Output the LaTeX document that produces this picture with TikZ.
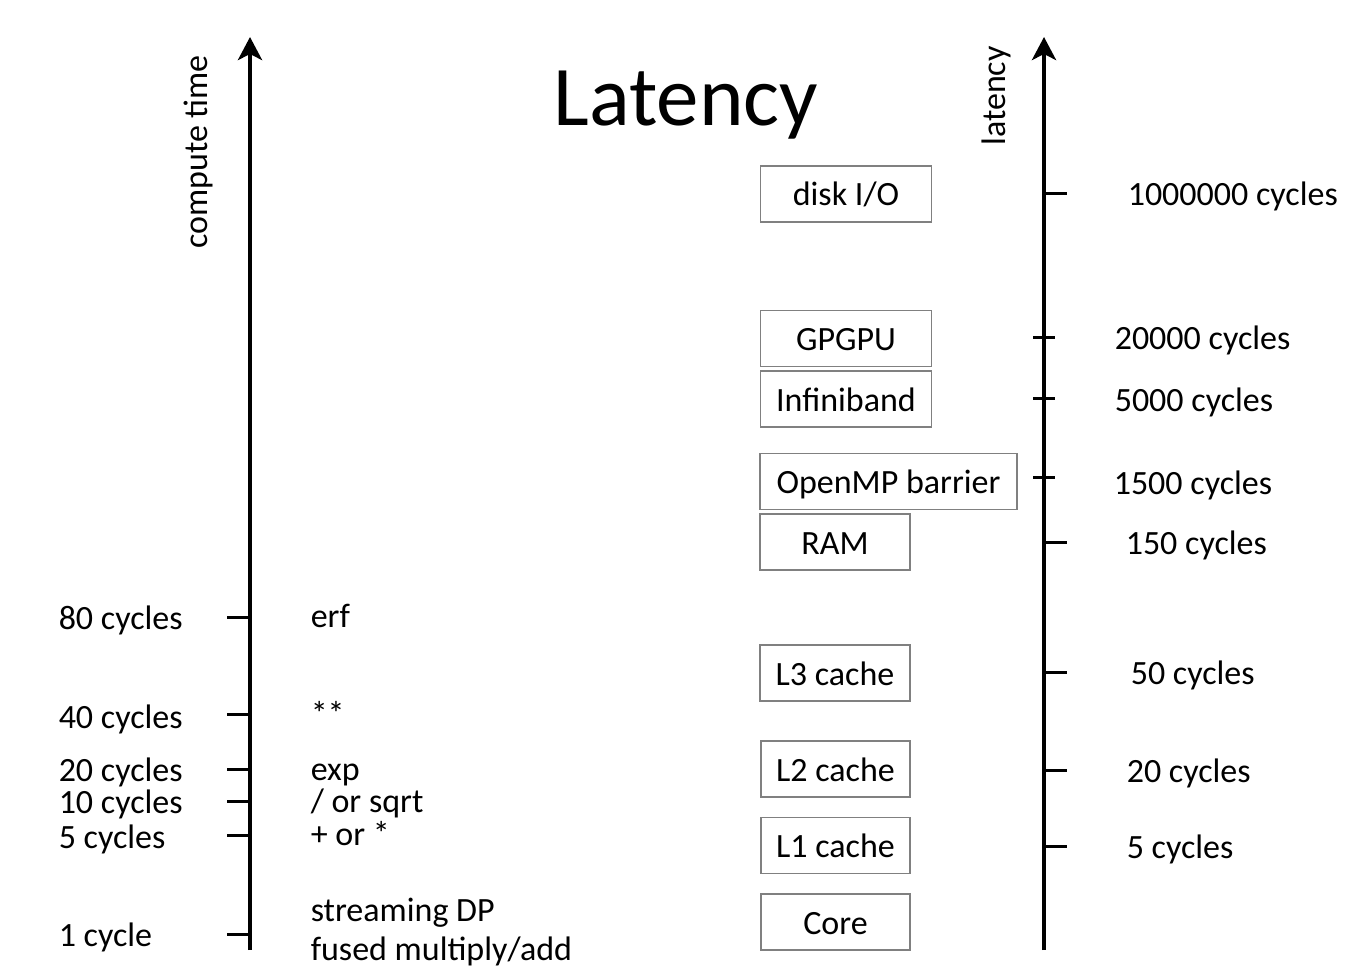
\documentclass[tikz,border=0pt]{standalone}
\usepackage{fontspec}
\setmainfont{Carlito}
\usetikzlibrary{arrows.meta}

\tikzset{every picture/.style={line width=0.75pt}}
\tikzset{
  lbl/.style={anchor=west,inner sep=0pt,text height=13pt,text depth=1pt,font=\fontsize{17}{20}\selectfont},
  cell/.style={draw={rgb,255:red,128;green,128;blue,128},line width=0.7pt,inner sep=0pt,minimum height=28pt,text height=13pt,text depth=1pt,font=\fontsize{17}{20}\selectfont},
  axisline/.style={line width=2.2pt,-{Stealth[length=11.5pt,width=12pt,inset=3pt]}},
  tickmark/.style={line width=1.5pt}
}

\begin{document}
\begin{tikzpicture}[x=0.5pt,y=0.5pt,yscale=-1,xscale=1]
\useasboundingbox (0,0) rectangle (1370,978);

%Axes
\draw [axisline] (250,950) -- (250,37) ;
\draw [axisline] (1044,950) -- (1044,37) ;

%Ticks left
\draw [tickmark] (227,617) -- (250,617) ;
\draw [tickmark] (227,714) -- (250,714) ;
\draw [tickmark] (227,769) -- (250,769) ;
\draw [tickmark] (227,801) -- (250,801) ;
\draw [tickmark] (227,835) -- (250,835) ;
\draw [tickmark] (227,934) -- (250,934) ;
%Ticks right
\draw [tickmark] (1044,194) -- (1067,194) ;
\draw [tickmark] (1033,338) -- (1055,338) ;
\draw [tickmark] (1033,399) -- (1055,399) ;
\draw [tickmark] (1033,477) -- (1055,477) ;
\draw [tickmark] (1044,542) -- (1067,542) ;
\draw [tickmark] (1044,672) -- (1067,672) ;
\draw [tickmark] (1044,770) -- (1067,770) ;
\draw [tickmark] (1044,846) -- (1067,846) ;

% Title
\draw (686,126) node [anchor=base][inner sep=0pt][font=\fontsize{42.5}{50}\selectfont] (title) {Latency};
% Axis names
\draw (195,152) node [lbl,anchor=center][rotate=90] (computetime) {compute time};
\draw (993,96) node [lbl,anchor=center][rotate=90] (latency) {latency};

% Boxes
\draw (846,194) node [cell,minimum width=85.5pt] (disk) {disk I/O};
\draw (846,338.5) node [cell,minimum width=85.5pt] (gpgpu) {GPGPU};
\draw (846,399) node [cell,minimum width=85.5pt] (infiniband) {Infiniband};
\draw (888.5,481.5) node [cell,minimum width=128.5pt] (openmp) {OpenMP barrier};
\draw (835,542) node [cell,minimum width=75pt] (ram) {RAM};
\draw (835,673) node [cell,minimum width=75pt] (lthree) {L3 cache};
\draw (835.5,769) node [cell,minimum width=74.5pt] (ltwo) {L2 cache};
\draw (835.5,845.5) node [cell,minimum width=74.5pt] (lone) {L1 cache};
\draw (835.5,922) node [cell,minimum width=74.5pt] (core) {Core};

% Text Node
\draw (58,617) node [lbl] (c80) {80 cycles};
\draw (58,716) node [lbl] (c40) {40 cycles};
\draw (58,769) node [lbl] (c20) {20 cycles};
\draw (58,801) node [lbl] (c10) {10 cycles};
\draw (58,836) node [lbl] (c5) {5 cycles};
\draw (58,934) node [lbl] (c1) {1 cycle};
% Text Node
\draw (310,615) node [lbl] (erf) {erf};
\draw (310,713) node [lbl] (pow) {**};
\draw (310,768) node [lbl] (exp) {exp};
\draw (310,800) node [lbl] (sqrt) {/ or sqrt};
\draw (310,833) node [lbl] (addmul) {+ or *};
\draw (310,909) node [lbl] (streaming) {streaming DP};
\draw (310,948) node [lbl] (fma) {fused multiply/add};
% Text Node
\draw (1127,194) node [lbl] (l1000000) {1000000 cycles};
\draw (1114,338) node [lbl] (l20000) {20000 cycles};
\draw (1114,399) node [lbl] (l5000) {5000 cycles};
\draw (1113,482) node [lbl] (l1500) {1500 cycles};
\draw (1125,542) node [lbl] (l150) {150 cycles};
\draw (1130,672) node [lbl] (l50) {50 cycles};
\draw (1126,770) node [lbl] (l20) {20 cycles};
\draw (1126,846) node [lbl] (l5) {5 cycles};
\end{tikzpicture}
\end{document}
